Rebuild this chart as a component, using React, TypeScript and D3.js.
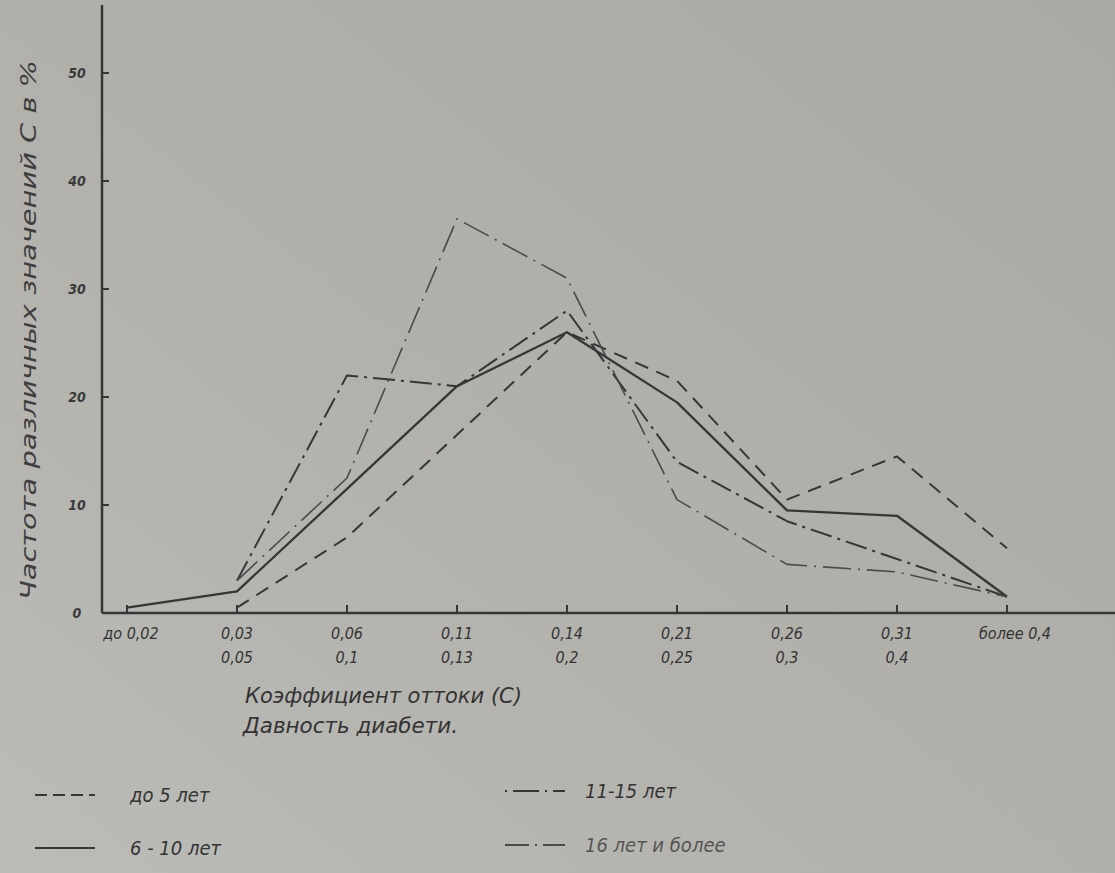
import React from 'react';
import * as d3 from 'd3';

// x categories (coefficient of outflow C)
const categories = ['до 0,02', '0,03–0,05', '0,06–0,1', '0,11–0,13', '0,14–0,2', '0,21–0,25', '0,26–0,3', '0,31–0,4', 'более 0,4'];
const tickTop = ['до 0,02', '0,03', '0,06', '0,11', '0,14', '0,21', '0,26', '0,31', 'более 0,4'];
const tickBottom = ['', '0,05', '0,1', '0,13', '0,2', '0,25', '0,3', '0,4', ''];
const yTicks = [0, 10, 20, 30, 40, 50];

// frequency, %, per duration of diabetes
const upTo5 = [null, 0.5, 7, 16.5, 26, 21.5, 10.5, 14.5, 6];
const from6to10 = [0.5, 2, 11.5, 21, 26, 19.5, 9.5, 9, 1.5];
const from11to15 = [null, 3, 22, 21, 28, 14, 8.5, 5, 1.5];
const over16 = [null, 3, 12.5, 36.5, 31, 10.5, 4.5, 3.8, 1.5];

const ink = '#363636';
const font = '"DejaVu Sans Condensed", "DejaVu Sans", sans-serif';

const series = [
  { name: 'до 5 лет', values: upTo5, dash: '14 9', width: 2, color: ink, legendDash: '12 6' },
  { name: '6 - 10 лет', values: from6to10, dash: '', width: 2.3, color: ink, legendDash: '' },
  { name: '11-15 лет', values: from11to15, dash: '22 6 3 6', width: 2, color: ink, legendDash: '2 6 26 6' },
  { name: '16 лет и более', values: over16, dash: '28 7 2 7', width: 1.6, color: '#4a4a4a', legendDash: '24 6 2 6' },
];

export default function App() {
  const width = 1115;
  const height = 873;

  const x = d3.scalePoint<string>().domain(categories).range([127, 1007]);
  const y = d3.scaleLinear().domain([0, 50]).range([613, 73]);

  const line = d3.line<number | null>()
    .defined(d => d !== null)
    .x((_, i) => x(categories[i]) as number)
    .y(d => y(d as number));

  return (
    <svg width={width} height={height} style={{ position: 'absolute', left: 0, top: 0 }}>
      <defs>
        <linearGradient id="paper" x1="1" y1="0" x2="0" y2="1">
          <stop offset="0" stopColor="#aaa9a4" />
          <stop offset="0.5" stopColor="#b1b0ab" />
          <stop offset="1" stopColor="#bbbbb7" />
        </linearGradient>
      </defs>
      <rect width={width} height={height} fill="url(#paper)" />

      {/* axes */}
      <line x1={102} x2={102} y1={5} y2={y(0)} stroke={ink} strokeWidth={2.5} />
      <line x1={102} x2={width} y1={y(0)} y2={y(0)} stroke={ink} strokeWidth={2.5} />
      {yTicks.slice(1).map(t => (
        <line key={t} x1={102} x2={109} y1={y(t)} y2={y(t)} stroke={ink} strokeWidth={2} />
      ))}
      {yTicks.map(t => (
        <text key={t} x={77} y={y(t)} dy="0.35em" textAnchor="middle" fontFamily={font}
          fontStyle="italic" fontWeight="bold" fontSize={14} fill="#3a3a3a">{t}</text>
      ))}
      {categories.map(c => (
        <line key={c} x1={x(c)} x2={x(c)} y1={y(0)} y2={y(0) - 8} stroke={ink} strokeWidth={2} />
      ))}
      {categories.map((c, i) => (
        <g key={c} fontFamily={font} fontStyle="italic" fontSize={16} fill="#333" textAnchor="middle">
          <text x={(x(c) as number) + (i === 0 ? 4 : i === 8 ? 8 : 0)} y={639}>{tickTop[i]}</text>
          <text x={x(c)} y={663}>{tickBottom[i]}</text>
        </g>
      ))}

      {/* axis titles */}
      <text transform="translate(36,330) rotate(-90)" textAnchor="middle" fontFamily={font}
        fontStyle="italic" fontSize={21} fill="#3e3e3e" textLength={540} lengthAdjust="spacingAndGlyphs">
        Частота различных значений С в %
      </text>
      <text x={245} y={703} fontFamily={font} fontStyle="italic" fontSize={22} fill="#333"
        textLength={277} lengthAdjust="spacingAndGlyphs">Коэффициент  оттоки (С)</text>
      <text x={243} y={733} fontFamily={font} fontStyle="italic" fontSize={22} fill="#333"
        textLength={215} lengthAdjust="spacingAndGlyphs">Давность  диабети.</text>

      {/* series */}
      {series.map(s => (
        <path key={s.name} d={line(s.values) ?? ''} fill="none" stroke={s.color}
          strokeWidth={s.width} strokeDasharray={s.dash} strokeLinejoin="round" />
      ))}

      {/* legend */}
      {series.map((s, i) => {
        const lx = i < 2 ? 35 : 505;
        const ly = i < 2 ? (i === 0 ? 795 : 848) : (i === 2 ? 791 : 845);
        const tx = i < 2 ? 130 : 585;
        return (
          <g key={s.name}>
            <line x1={lx} x2={lx + 60} y1={ly} y2={ly} stroke={s.color} strokeWidth={2.2}
              strokeDasharray={s.legendDash} />
            <text x={tx} y={ly + 7} fontFamily={font} fontStyle="italic" fontSize={20}
              fill={i === 3 ? '#555' : '#333'}>{s.name}</text>
          </g>
        );
      })}
    </svg>
  );
}
